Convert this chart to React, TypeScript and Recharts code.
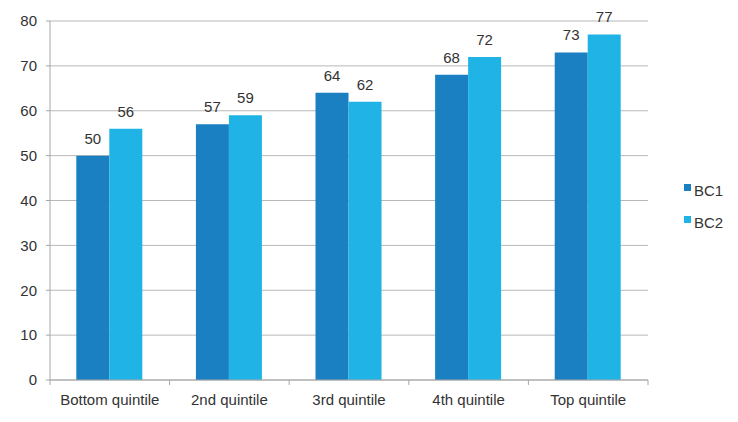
import { Bar, BarChart, CartesianGrid, LabelList, XAxis, YAxis } from 'recharts';

const categories = ['Bottom quintile', '2nd quintile', '3rd quintile', '4th quintile', 'Top quintile'];
const bc1 = [50, 57, 64, 68, 73];
const bc2 = [56, 59, 62, 72, 77];
const yTicks = [0, 10, 20, 30, 40, 50, 60, 70, 80];

const chartData = categories.map((name, i) => ({ name, BC1: bc1[i], BC2: bc2[i] }));

const BAND = 119.6;
const AXIS = '#a6a6a6';
const TEXT = '#333333';
const FONT = 'Liberation Sans, Arial, sans-serif';

const series = [
  { key: 'BC1', color: '#1a80c2' },
  { key: 'BC2', color: '#20b4e6' },
];

const CategoryTick = (props: any) => {
  const { x, y, payload, index } = props;
  const last = index === categories.length - 1;
  return (
    <g>
      <line x1={x - BAND / 2} x2={x - BAND / 2} y1={y - 8} y2={y - 3} stroke={AXIS} />
      {last ? <line x1={x + BAND / 2} x2={x + BAND / 2} y1={y - 8} y2={y - 3} stroke={AXIS} /> : null}
      <text x={x} y={y + 17} textAnchor="middle" fontSize={15} fill={TEXT}>
        {payload.value}
      </text>
    </g>
  );
};

export default function App() {
  return (
    <div style={{ position: 'absolute', left: 0, top: 0, width: 738, height: 422, background: '#fff', fontFamily: FONT }}>
      <BarChart
        width={738}
        height={422}
        data={chartData}
        margin={{ top: 21, right: 90, bottom: 12, left: 0 }}
        barCategoryGap="22%"
        barGap={0}
      >
        <CartesianGrid vertical={false} stroke="#b8b8b8" />
        <XAxis dataKey="name" stroke={AXIS} tickLine={false} tick={<CategoryTick />} height={30} interval={0} />
        <YAxis
          domain={[0, 80]}
          ticks={yTicks}
          width={50}
          stroke={AXIS}
          tickSize={4}
          tick={{ fill: TEXT, fontSize: 15 }}
          tickMargin={9}
        />
        {series.map((s) => (
          <Bar key={s.key} dataKey={s.key} fill={s.color} isAnimationActive={false}>
            <LabelList dataKey={s.key} position="top" offset={12} fill={TEXT} fontSize={15} />
          </Bar>
        ))}
      </BarChart>
      <div style={{ position: 'absolute', left: 684, top: 174, fontSize: 15, color: TEXT }}>
        {series.map((s) => (
          <div key={s.key} style={{ display: 'flex', alignItems: 'center', height: 32 }}>
            <span style={{ width: 7, height: 7, background: s.color, marginRight: 3, marginTop: -6 }} />
            <span>{s.key}</span>
          </div>
        ))}
      </div>
    </div>
  );
}
